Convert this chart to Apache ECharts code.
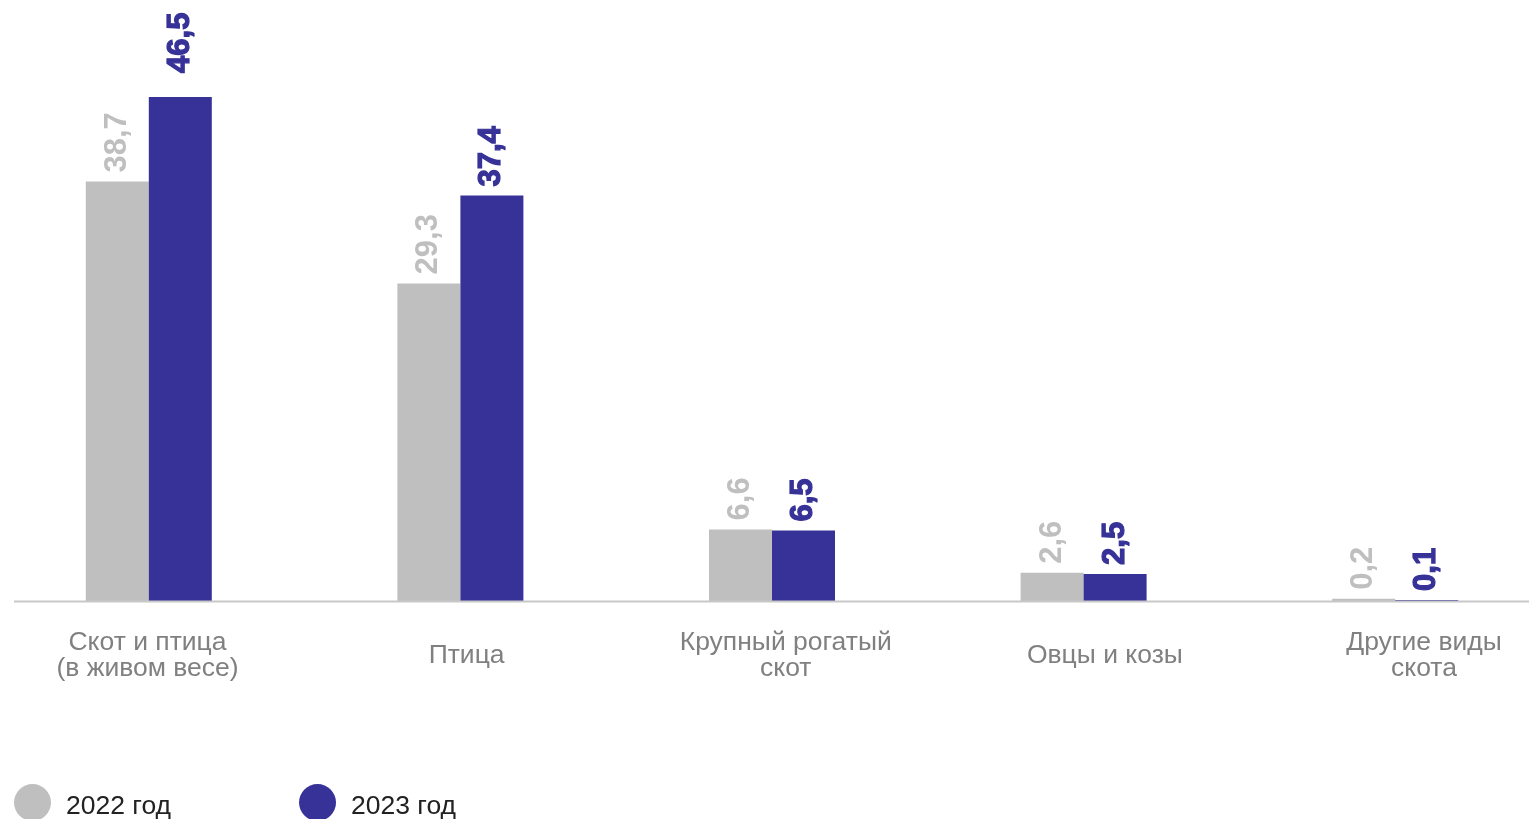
<!DOCTYPE html>
<html><head><meta charset="utf-8">
<script src="https://cdn.jsdelivr.net/npm/echarts@6/dist/echarts.min.js"></script>
<style>html,body{margin:0;padding:0;background:#fff;overflow:hidden;width:1529px;height:819px;position:relative}#c{position:absolute;left:-7px;top:0;width:1558px;height:819px}</style>
</head><body><div id="c"></div>
<script>
var categories = ['Скот и птица\n(в живом весе)', 'Птица', 'Крупный рогатый\nскот', 'Овцы и козы', 'Другие виды\nскота'];
var values2022 = [38.7, 29.3, 6.6, 2.6, 0.2];
var values2023 = [46.5, 37.4, 6.5, 2.5, 0.1];
var seriesNames = ['2022 год', '2023 год'];

var chart = echarts.init(document.getElementById('c'));
function fmt(p){ return String(p.value).replace('.', ','); }
var FONT = '"Liberation Sans", Arial, sans-serif';
chart.setOption({
  animation: false,
  grid: [
    { left: 0, right: 0, top: 59, bottom: 218, containLabel: false },
    { left: 154.5, right: 127, top: 59, bottom: 218, containLabel: false }
  ],
  xAxis: [
    { type: 'category', data: categories, gridIndex: 0,
      axisLine: { show: false }, axisTick: { show: false }, axisLabel: { show: false } },
    { type: 'category', data: categories, gridIndex: 1, boundaryGap: false,
      axisLine: { show: false }, axisTick: { show: false }, splitLine: { show: false },
      axisLabel: { interval: 0, margin: 55, verticalAlign: 'middle', color: '#808080', fontSize: 26.5, lineHeight: 26, fontFamily: FONT } }
  ],
  yAxis: [
    { type: 'value', gridIndex: 0, min: 0, max: 50, show: false, splitLine: { show: false } },
    { type: 'value', gridIndex: 1, min: 0, max: 50, show: false, splitLine: { show: false } }
  ],
  legend: {
    left: 21, top: 784, padding: 0, icon: 'circle', itemWidth: 37, itemHeight: 37, itemGap: 128,
    formatter: '{t|{name}}',
    textStyle: { fontSize: 26.5, color: '#222', fontFamily: FONT, padding: [0,0,0,10],
      rich: { t: { fontSize: 26.5, color: '#222', fontFamily: FONT, padding: [8,0,0,0] } } },
    data: seriesNames
  },
  graphic: [{ type: 'line', shape: { x1: 21, y1: 601.5, x2: 1540, y2: 601.5 }, style: { stroke: '#c8c8c8', lineWidth: 2 }, z: 10 }],
  series: [
    { name: seriesNames[0], type: 'bar', barWidth: 63, barGap: '0%', data: values2022,
      itemStyle: { color: '#bfbfbf' },
      label: { show: true, position: 'top', rotate: 90, align: 'left', verticalAlign: 'middle', distance: 9,
        formatter: fmt, color: '#bfbfbf', fontSize: 31, fontWeight: 'bold', fontFamily: FONT } },
    { name: seriesNames[1], type: 'bar', barWidth: 63, barGap: '0%',
      data: values2023.map(function(v, i){ return i === 0 ? { value: v, label: { distance: 24 } } : v; }),
      itemStyle: { color: '#373297' },
      label: { show: true, position: 'top', rotate: 90, align: 'left', verticalAlign: 'middle', distance: 9,
        formatter: fmt, color: '#373297', fontSize: 31, fontWeight: 'bold', fontFamily: FONT,
        textBorderColor: '#373297', textBorderWidth: 1.2 } }
  ]
});
</script></body></html>
